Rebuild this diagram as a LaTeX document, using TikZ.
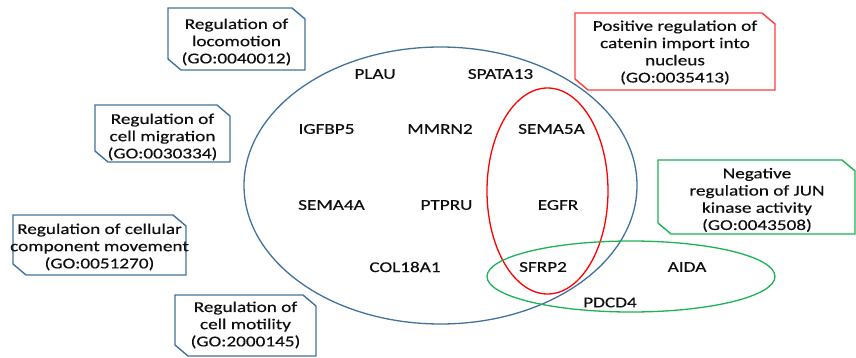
\documentclass[tikz,border=0pt]{standalone}
\usepackage{fontspec}
\setmainfont{Carlito}[FakeStretch=1.28,FakeBold=0.4]
\definecolor{blueln}{RGB}{65,113,156}
\definecolor{redbox}{RGB}{255,60,60}
\definecolor{redell}{RGB}{255,0,0}
\definecolor{greenln}{RGB}{30,178,85}
\definecolor{txt}{RGB}{15,15,15}
\tikzset{
  boxline/.style={line width=1.4pt, line join=miter},
  ell/.style={line width=1.3pt},
  boxtext/.style={align=center, text=txt, inner sep=0pt, font=\fontsize{15}{17.2}\selectfont},
  gene/.style={text=txt, inner sep=0pt, font=\fontsize{15}{17}\selectfont},
}
\newcommand{\snipframe}[5]{%
  \draw[boxline,#5] (#1,#2) -- (#3-13,#2) -- (#3,#2+11) -- (#3,#4) -- (#1+13,#4) -- (#1,#4-11) -- cycle;}
\begin{document}
\begin{tikzpicture}[x=1pt,y=-1pt]
\useasboundingbox (0,0) rectangle (856,358);
% ellipses
\draw[ell,blueln] (440.5,185.5) ellipse [x radius=196.5pt, y radius=138.5pt];
\draw[ell,redell] (547.5,191) ellipse [x radius=60.5pt, y radius=103pt];
\draw[ell,greenln] (631,276.5) ellipse [x radius=144pt, y radius=35.5pt];
% boxes
\snipframe{168}{8}{305}{70}{blueln}
\node[boxtext] (b1) at (236.5,42) {Regulation of\\locomotion\\(GO:0040012)};
\snipframe{95}{105}{230}{162}{blueln}
\node[boxtext] (b2) at (162.5,137) {Regulation of\\cell migration\\(GO:0030334)};
\snipframe{13}{215}{186}{275}{blueln}
\node[boxtext] (b3) at (99.5,247) {Regulation of cellular\\component movement\\(GO:0051270)};
\snipframe{175}{295}{316}{356}{blueln}
\node[boxtext] (b4) at (245.5,325) {Regulation of\\cell motility\\(GO:2000145)};
\snipframe{575}{13}{775}{90}{redbox}
\node[boxtext] (b5) at (675,52.5) {Positive regulation of\\catenin import into\\nucleus\\(GO:0035413)};
\snipframe{658}{160}{855}{234}{greenln}
\node[boxtext] (b6) at (757,200) {Negative\\regulation of JUN\\kinase activity\\(GO:0043508)};
% genes
\node[gene] (plau) at (375,74) {PLAU};
\node[gene] (spata13) at (500.5,74) {SPATA13};
\node[gene] (igfbp5) at (326.5,129) {IGFBP5};
\node[gene] (mmrn2) at (440,129) {MMRN2};
\node[gene] (sema5a) at (551.5,129) {SEMA5A};
\node[gene] (sema4a) at (331.5,205) {SEMA4A};
\node[gene] (ptpru) at (446.5,205) {PTPRU};
\node[gene] (egfr) at (558,205) {EGFR};
\node[gene] (col18a1) at (405,267) {COL18A1};
\node[gene] (sfrp2) at (543,267) {SFRP2};
\node[gene] (pdcd4) at (610,302.5) {PDCD4};
\node[gene] (aida) at (687,267) {AIDA};
\end{tikzpicture}
\end{document}
